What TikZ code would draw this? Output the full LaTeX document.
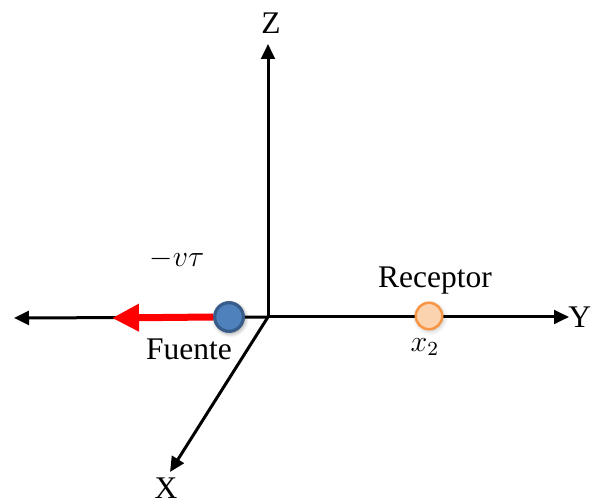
\documentclass[tikz,border=0pt]{standalone}
\usepackage{fontspec}
\setmainfont{Liberation Serif}
\usetikzlibrary{arrows.meta, shadows.blur}
\definecolor{srcblue}{HTML}{4F81BD}
\definecolor{srcedge}{HTML}{385D8A}
\definecolor{recfill}{HTML}{FBD3AE}
\definecolor{recedge}{HTML}{F79646}

\begin{document}
\begin{tikzpicture}[x=0.4pt, y=-0.4pt, font=\fontsize{12.6}{15}\selectfont,
      axis/.style={draw=black, line width=1.2pt, -{Triangle[length=6pt, width=5.5pt]}},
      part/.style={circle, inner sep=0pt, line width=1.2pt,
                   blur shadow={shadow blur steps=6, shadow xshift=.5pt, shadow yshift=-.7pt, shadow opacity=25}},
      lbl/.style={inner sep=1pt}]
      \useasboundingbox (0,0) rectangle (592,504);

      % ejes
      \coordinate (o) at (268,317);
      \coordinate (zend) at (268,44);
      \coordinate (yend) at (569,317);
      \coordinate (wend) at (14,318);
      \coordinate (xend) at (170,472);
      \draw[axis] (o)--(zend); \draw[axis] (o)--(yend); \draw[axis] (o)--(wend); \draw[axis] (o)--(xend);

      \node[lbl] (lz) at (271,23) {Z};
      \node[lbl, anchor=east, inner sep=0pt] (ly) at (591.5,317) {Y};
      \node[lbl, anchor=south, inner sep=0pt] (lx) at (166,499) {X};

      % fuente y receptor
      \coordinate (vend) at (112,318);
      \node[part, draw=srcedge, fill=srcblue, minimum size=11.4pt] (fuente) at (229,317) {};
      \draw[red, line width=2.8pt, -{Triangle[length=10.8pt, width=10.4pt]}] (fuente.west)--(vend);
      \node[part, draw=srcedge, fill=srcblue, minimum size=11.4pt] at (fuente) {};
      \node[part, draw=recedge, fill=recfill, minimum size=10.6pt, line width=1pt] (receptor) at (429,316) {};

      \node[lbl] (lvt) at (177,259) {\large$-v\tau$};
      \node[lbl] (lfue) at (189,349) {Fuente};
      \node[lbl] (lrec) at (435,281) {Receptor};
      \node[lbl] (lx2) at (425,347) {\large$x_2$};
    \end{tikzpicture}
\end{document}
